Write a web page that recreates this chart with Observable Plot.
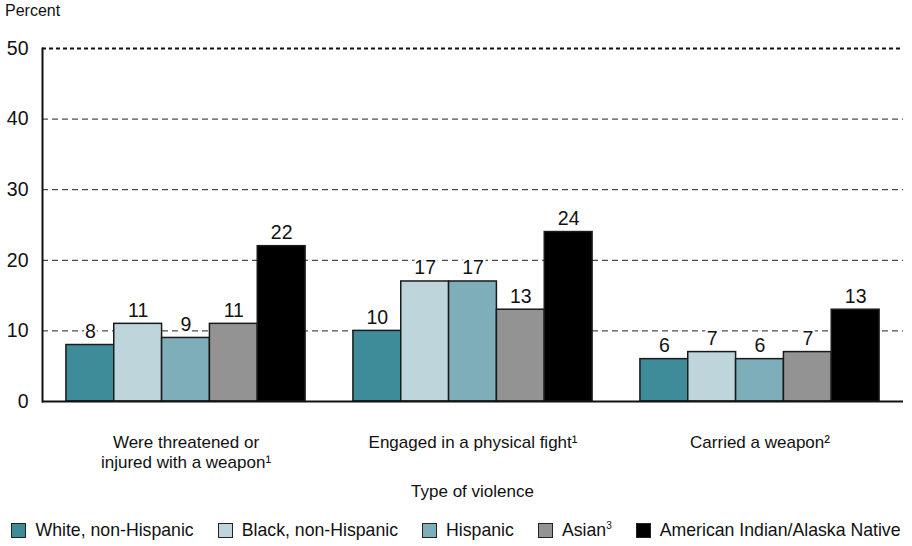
<!DOCTYPE html>
<html>
<head>
<meta charset="utf-8">
<script src="https://cdn.jsdelivr.net/npm/d3@7"></script>
<script src="https://cdn.jsdelivr.net/npm/@observablehq/plot@0.6"></script>
<style>
  html, body { margin: 0; padding: 0; background: #fff; }
  body { width: 912px; height: 546px; font-family: "Liberation Sans", Arial, sans-serif; color: #111; overflow: hidden; }
  #ylabel { font-size: 16px; line-height: 22px; padding-left: 5px; height: 22px; }
  #chart svg { display: block; }
  #xlabel { font-size: 17px; height: 34px; line-height: 34px; text-align: center; width: 861px; margin-left: 42px; }
  #legend { display: flex; justify-content: center; align-items: center; gap: 24px; font-size: 17.7px; margin-top: 10px; line-height: 22px; }
  .item { display: flex; align-items: center; gap: 9px; }
  .sw { width: 13px; height: 13px; border: 1.5px solid #222; box-sizing: content-box; }
  sup { font-size: 10px; line-height: 0; vertical-align: 7px; }
</style>
</head>
<body>
<div id="ylabel">Percent</div>
<div id="chart"></div>
<div id="xlabel">Type of violence</div>
<div id="legend"></div>
<script>
const categories = ["threatened", "fight", "carried"];
const categoryLabels = ["Were threatened or\ninjured with a weapon¹", "Engaged in a physical fight¹", "Carried a weapon²"];
const races = ["White, non-Hispanic", "Black, non-Hispanic", "Hispanic", "Asian", "American Indian/Alaska Native"];
const raceLegendLabels = ["White, non-Hispanic", "Black, non-Hispanic", "Hispanic", "Asian<sup>3</sup>", "American Indian/Alaska Native"];
const colors = ["#3e8b9a", "#bed5db", "#7eaeb9", "#939393", "#000000"];
const whiteValues = [8, 10, 6];
const blackValues = [11, 17, 7];
const hispanicValues = [9, 17, 6];
const asianValues = [11, 13, 7];
const aianValues = [22, 24, 13];
const yTicks = [0, 10, 20, 30, 40, 50];
const gridTicks = [10, 20, 30, 40];

const series = [whiteValues, blackValues, hispanicValues, asianValues, aianValues];
const key = (c, r) => c + "|" + r;
const data = [];
const xDomain = [];
categories.forEach((c, ci) => {
  if (ci > 0) xDomain.push("gap" + ci);
  races.forEach((r, ri) => {
    data.push({cat: c, race: r, key: key(c, r), value: series[ri][ci]});
    xDomain.push(key(c, r));
  });
});
const catData = categories.map((c, i) => ({key: key(c, races[2]), label: categoryLabels[i]}));

const chart = Plot.plot({
  width: 912,
  height: 453,
  marginLeft: 42,
  marginRight: 9,
  marginTop: 26,
  marginBottom: 74,
  style: {fontFamily: '"Liberation Sans", Arial, sans-serif', background: "#fff", color: "#111"},
  x: {domain: xDomain, paddingInner: 0, paddingOuter: 0.5, round: false, axis: null},
  y: {domain: [0, 50], axis: null},
  color: {domain: races, range: colors},
  marks: [
    Plot.ruleY(gridTicks, {stroke: "#222", strokeWidth: 1, strokeDasharray: "6,4"}),
    Plot.ruleY([50], {stroke: "#111", strokeWidth: 2, strokeDasharray: "4,3"}),
    Plot.barY(data, {x: "key", y: "value", fill: "race", stroke: "#1a1a1a", strokeWidth: 1.5}),
    Plot.text(data, {x: "key", y: "value", text: d => String(d.value), lineAnchor: "bottom", dy: -7, fontSize: 19.5, fill: "#111", stroke: "white", strokeWidth: 5}),
    Plot.ruleY([0], {stroke: "#111", strokeWidth: 2}),
    Plot.frame({anchor: "left", stroke: "#111", strokeWidth: 2}),
    Plot.axisY({ticks: yTicks, tickSize: 0, tickPadding: 14, fontSize: 19.5, label: null}),
    Plot.text(catData, {x: "key", text: "label", frameAnchor: "bottom", lineAnchor: "top", dy: 32, fontSize: 17, lineHeight: 1.18, fill: "#111"})
  ]
});
document.getElementById("chart").appendChild(chart);

const legend = document.getElementById("legend");
races.forEach((r, i) => {
  const item = document.createElement("div");
  item.className = "item";
  item.innerHTML = `<span class="sw" style="background:${colors[i]}"></span><span>${raceLegendLabels[i]}</span>`;
  legend.appendChild(item);
});
</script>
</body>
</html>
